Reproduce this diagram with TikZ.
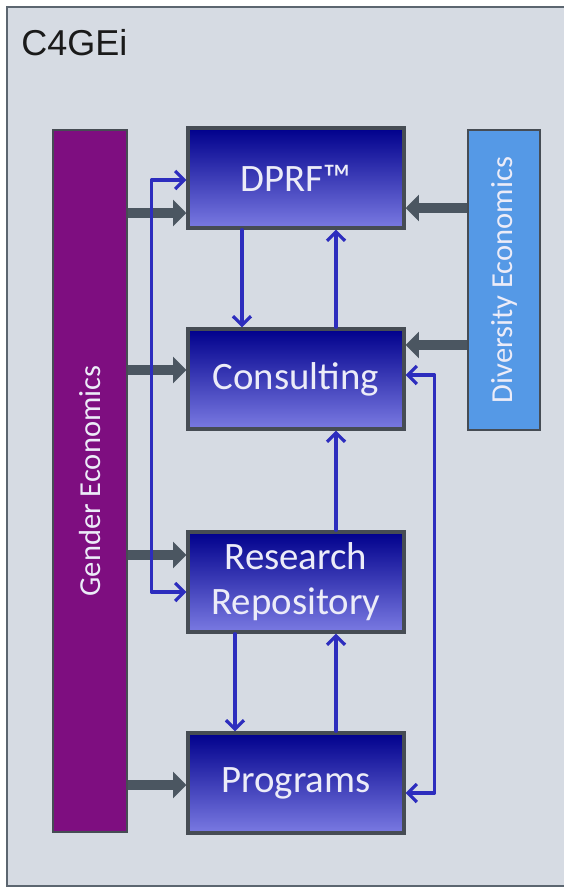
\documentclass[tikz,border=0pt]{standalone}
\usepackage{fontspec}
\setmainfont{Carlito}
\newfontfamily\titlefont{Liberation Sans}
\usetikzlibrary{arrows.meta}

\definecolor{panelbg}{RGB}{214,219,227}
\definecolor{panelline}{RGB}{92,102,112}
\definecolor{boxline}{RGB}{70,76,84}
\definecolor{boxtop}{RGB}{0,0,140}
\definecolor{boxbottom}{RGB}{122,122,226}
\definecolor{genderfill}{RGB}{126,14,128}
\definecolor{diversityfill}{RGB}{85,153,230}
\definecolor{feedgray}{RGB}{75,86,97}
\definecolor{linkblue}{RGB}{45,45,190}
\definecolor{labelwhite}{RGB}{236,236,248}

\begin{document}
\begin{tikzpicture}[x=0.025cm, y=-0.025cm,
  >={Straight Barb[length=0.22cm, width=0.45cm]},
  unit/.style={rectangle, draw=boxline, line width=2.4pt, top color=boxtop, bottom color=boxbottom,
    minimum width=5.4cm, minimum height=2.5cm, text=labelwhite, align=center,
    font=\fontsize{27.6}{32}\selectfont},
  pillar/.style={rectangle, draw=boxline, line width=1.8pt, text=labelwhite,
    font=\fontsize{21.7}{26}\selectfont},
  feed/.style={draw=feedgray, line width=0.25cm, -{Triangle[length=0.33cm, width=0.65cm]}},
  link/.style={draw=linkblue, line width=2.3pt, line cap=round, line join=round}]

  \useasboundingbox (0,0) rectangle (564,888);
  \clip (0,0) rectangle (564,888);
  \fill[white] (0,0) rectangle (564,888);
  \draw[fill=panelbg, draw=panelline, line width=2.1pt] (7,7) rectangle (600,886);
  \node[anchor=base west, inner sep=0pt, font=\titlefont\fontsize{25.6}{30}\selectfont, text={rgb,255:red,26;green,26;blue,26}] at (21,55) (title) {C4GEi};

  % service blocks
  \node[unit] at (296,178) (dprf) {DPRF\texttrademark};
  \node[unit] at (296,379) (cons) {Consulting};
  \node[unit] at (296,582) (repo) {Research\\Repository};
  \node[unit] at (296,783) (prog) {Programs};

  % side pillars
  \node[pillar, fill=genderfill, minimum width=1.85cm, minimum height=17.55cm] at (90,481) (gender) {};
  \node[pillar, draw=none, rotate=90] at (gender.center) {Gender Economics};
  \node[pillar, fill=diversityfill, minimum width=1.8cm, minimum height=7.5cm] at (504,280) (div) {};
  \node[pillar, draw=none, rotate=90] at (div.center) {Diversity Economics};

  % feeds from the pillars
  \draw[feed] ([yshift=-0.875cm]gender.east |- dprf.west) -- ([yshift=-0.875cm]dprf.west);
  \draw[feed] ([yshift=0.225cm]gender.east |- cons.west) -- ([yshift=0.225cm]cons.west);
  \draw[feed] ([yshift=0.675cm]gender.east |- repo.west) -- ([yshift=0.675cm]repo.west);
  \draw[feed] ([yshift=-0.05cm]gender.east |- prog.west) -- ([yshift=-0.05cm]prog.west);
  \draw[feed] ([yshift=-0.75cm]div.west |- dprf.east) -- ([yshift=-0.75cm]dprf.east);
  \draw[feed] ([yshift=0.85cm]div.west |- cons.east) -- ([yshift=0.85cm]cons.east);

  % links between the blocks
  \draw[link, <->] ([yshift=-0.05cm]dprf.west) -- ++(-35,0) |- ([yshift=-0.25cm]repo.west);
  \draw[link, <->] ([yshift=0.1cm]cons.east) -- ++(29,0) |- ([yshift=-0.25cm]prog.east);
  \draw[link, ->] ([xshift=-1.35cm]dprf.south) -- ([xshift=-1.35cm]cons.north);
  \draw[link, ->] ([xshift=1cm]cons.north) -- ([xshift=1cm]dprf.south);
  \draw[link, ->] ([xshift=1cm]repo.north) -- ([xshift=1cm]cons.south);
  \draw[link, ->] ([xshift=-1.525cm]repo.south) -- ([xshift=-1.525cm]prog.north);
  \draw[link, ->] ([xshift=1cm]prog.north) -- ([xshift=1cm]repo.south);

\end{tikzpicture}
\end{document}
